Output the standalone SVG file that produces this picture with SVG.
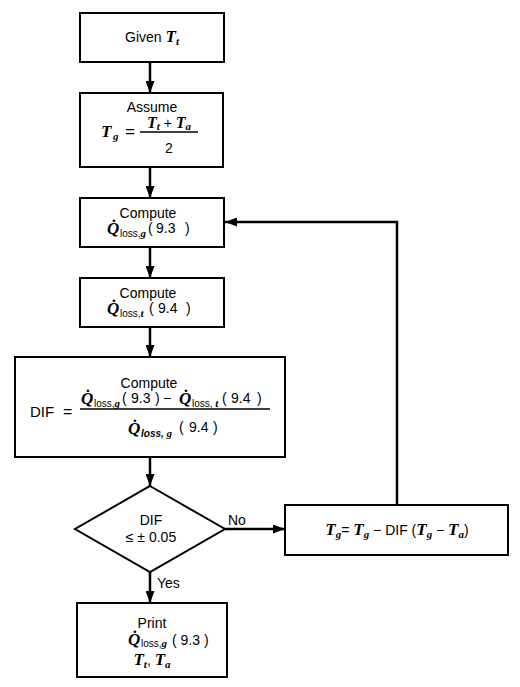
<svg xmlns="http://www.w3.org/2000/svg" width="520" height="687" viewBox="0 0 520 687">
<style>
.box{fill:#fff;stroke:#000;stroke-width:2}
.ln{fill:none;stroke:#000;stroke-width:2.5}
.t{font-family:"Liberation Sans",Arial,sans-serif;font-size:14px;fill:#000}
.m{font-family:"Liberation Serif","Times New Roman",serif;font-style:italic;font-weight:bold;font-size:17px}
.s{font-family:"Liberation Sans",Arial,sans-serif;font-size:10px}
.si{font-family:"Liberation Serif","Times New Roman",serif;font-style:italic;font-weight:bold;font-size:11px}
</style>
<defs>
<marker id="ah" markerUnits="userSpaceOnUse" markerWidth="12" markerHeight="9" refX="12" refY="4.5" orient="auto">
<path d="M0,0 L12,4.5 L0,9 z" fill="#000"/>
</marker>
</defs>
<rect width="520" height="687" fill="#fff"/>
<g id="connectors">
<line class="ln" x1="150" y1="62" x2="150" y2="93" marker-end="url(#ah)"/>
<line class="ln" x1="150" y1="167" x2="150" y2="198" marker-end="url(#ah)"/>
<line class="ln" x1="150" y1="247" x2="150" y2="278" marker-end="url(#ah)"/>
<line class="ln" x1="150" y1="327" x2="150" y2="357" marker-end="url(#ah)"/>
<line class="ln" x1="150" y1="457" x2="150" y2="486" marker-end="url(#ah)"/>
<line class="ln" x1="225" y1="529" x2="285" y2="529" marker-end="url(#ah)"/>
<polyline class="ln" points="397,505 397,222 225,222" marker-end="url(#ah)"/>
<line class="ln" x1="150" y1="572" x2="150" y2="603" marker-end="url(#ah)"/>
<text class="t" x="228" y="525">No</text>
<text class="t" x="157" y="588">Yes</text>
</g>
<g id="given">
<rect class="box" x="80" y="13" width="144" height="49"/>
<text class="t" x="152" y="42" text-anchor="middle">Given <tspan class="m">T</tspan><tspan class="si" dy="3">t</tspan></text>
</g>
<g id="assume">
<rect class="box" x="80" y="93" width="143" height="74"/>
<text class="t" x="152" y="112" text-anchor="middle">Assume</text>
<text class="m" x="101" y="137">T</text>
<text class="si" x="113" y="140">g</text>
<text class="t" x="125" y="137" style="font-size:17px">=</text>
<line x1="140" y1="132" x2="198" y2="132" stroke="#000" stroke-width="1.3"/>
<text class="t" x="169" y="128" text-anchor="middle"><tspan class="m" style="font-size:16px">T</tspan><tspan class="si" dy="2">t</tspan><tspan dy="-2"> + </tspan><tspan class="m" style="font-size:16px">T</tspan><tspan class="si" dy="2">a</tspan></text>
<text class="t" x="169" y="153" text-anchor="middle">2</text>
</g>
<g id="qg">
<rect class="box" x="80" y="198" width="144" height="49"/>
<text class="t" x="148" y="218" text-anchor="middle">Compute</text>
<text class="m" x="107" y="234">Q&#x307;</text>
<text class="s" x="120" y="237">loss,<tspan class="si">g</tspan></text>
<text class="t" x="148" y="233">(</text>
<text class="t" x="156" y="233">9.3</text>
<text class="t" x="185" y="233">)</text>
</g>
<g id="qt">
<rect class="box" x="80" y="278" width="144" height="49"/>
<text class="t" x="148" y="298" text-anchor="middle">Compute</text>
<text class="m" x="107" y="314">Q&#x307;</text>
<text class="s" x="120" y="317">loss,<tspan class="si">t</tspan></text>
<text class="t" x="149" y="313">(</text>
<text class="t" x="158" y="313">9.4</text>
<text class="t" x="186" y="313">)</text>
</g>
<g id="dif">
<rect class="box" x="15" y="357" width="270" height="100"/>
<text class="t" x="149" y="388" text-anchor="middle">Compute</text>
<text class="t" x="30" y="417" style="font-size:15px">DIF</text>
<text class="t" x="63" y="417" style="font-size:16px">=</text>
<line x1="80" y1="409" x2="270" y2="409" stroke="#000" stroke-width="1.3"/>
<text class="m" x="81" y="404">Q&#x307;</text>
<text class="s" x="94" y="407">loss,<tspan class="si">g</tspan></text>
<text class="t" x="122" y="403">(</text>
<text class="t" x="131" y="403">9.3</text>
<text class="t" x="155" y="403">)</text>
<text class="t" x="163" y="403">−</text>
<text class="m" x="179" y="404">Q&#x307;</text>
<text class="s" x="192" y="407">loss, <tspan class="si">t</tspan></text>
<text class="t" x="222" y="403">(</text>
<text class="t" x="231" y="403">9.4</text>
<text class="t" x="257" y="403">)</text>
<text class="m" x="128" y="434">Q&#x307;</text>
<text class="s" x="141" y="437" style="font-style:italic;font-weight:bold">loss, <tspan class="si">g</tspan></text>
<text class="t" x="179" y="432">(</text>
<text class="t" x="189" y="432">9.4</text>
<text class="t" x="213" y="432">)</text>
</g>
<g id="decision">
<polygon class="box" points="150,486 225,529 150,572 75,529"/>
<text class="t" x="151" y="525" text-anchor="middle">DIF</text>
<text class="t" x="151" y="542" text-anchor="middle">≤  ± 0.05</text>
</g>
<g id="update">
<rect class="box" x="285" y="505" width="223" height="50"/>
<text class="t" x="397" y="535" text-anchor="middle"><tspan class="m">T</tspan><tspan class="si" dy="3">g</tspan><tspan dy="-3">= </tspan><tspan class="m">T</tspan><tspan class="si" dy="3">g</tspan><tspan dy="-3"> − DIF (</tspan><tspan class="m">T</tspan><tspan class="si" dy="3">g</tspan><tspan dy="-3"> − </tspan><tspan class="m">T</tspan><tspan class="si" dy="3">a</tspan><tspan dy="-3">)</tspan></text>
</g>
<g id="print">
<rect class="box" x="77" y="603" width="150" height="74"/>
<text class="t" x="152" y="628" text-anchor="middle">Print</text>
<text class="m" x="128" y="645">Q&#x307;</text>
<text class="s" x="141" y="647">loss,<tspan class="si">g</tspan></text>
<text class="t" x="172" y="645">( 9.3 )</text>
<text class="t" x="152" y="665" text-anchor="middle"><tspan class="m">T</tspan><tspan class="si" dy="3">t</tspan><tspan dy="-3">, </tspan><tspan class="m">T</tspan><tspan class="si" dy="3">a</tspan></text>
</g>
</svg>
